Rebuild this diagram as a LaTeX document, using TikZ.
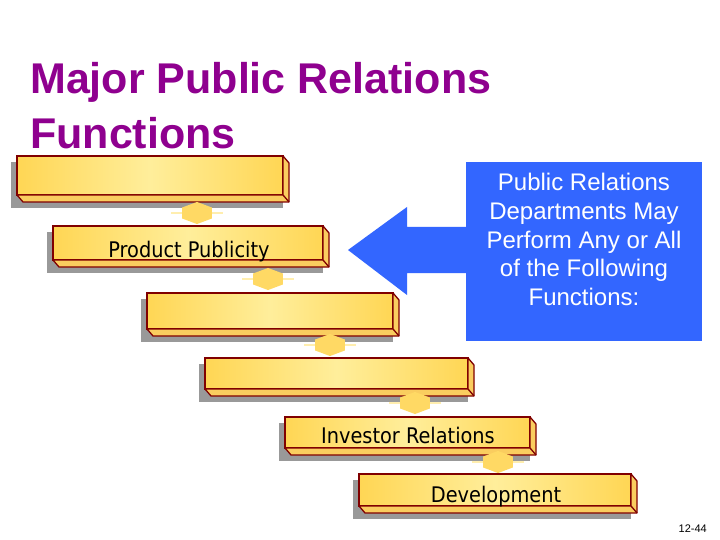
\documentclass[tikz,border=0pt]{standalone}
\usepackage{fontspec}
\setmainfont{Liberation Sans}
\newfontfamily\barfont{DejaVu Sans Condensed}
\usetikzlibrary{shapes.geometric}
\definecolor{titlepurple}{RGB}{143,0,143}
\definecolor{boxblue}{RGB}{51,102,255}
\definecolor{barborder}{RGB}{128,0,0}
\definecolor{baredge}{RGB}{255,214,84}
\definecolor{barmid}{RGB}{255,238,155}
\definecolor{barside}{RGB}{250,205,95}
\definecolor{shadowgray}{RGB}{153,153,153}
\definecolor{hexgold}{RGB}{255,217,100}
\definecolor{glow}{RGB}{255,238,175}
\tikzset{
  barface/.style={rectangle, draw=barborder, line width=1.3pt, inner sep=0pt, outer sep=0pt,
    left color=baredge, right color=baredge, middle color=barmid},
  barrim/.style={draw=barborder, fill=barside, line width=1.3pt, line join=round},
  barshadow/.style={fill=shadowgray},
  bartext/.style={font=\barfont\fontsize{21.5}{24}\selectfont, text=black, inner sep=0pt, anchor=base},
  hexcon/.style={regular polygon, regular polygon sides=6, shape border rotate=30,
    fill=hexgold, draw=none, minimum size=24pt, inner sep=0pt, transform shape, xscale=1.42, yscale=0.92},
  glowline/.style={draw=glow, line width=1.2pt},
  titletext/.style={font=\bfseries\fontsize{43}{48}\selectfont, text=titlepurple, inner sep=0pt, anchor=base west},
}
% #1 name, #2 x1, #3 y1, #4 x2, #5 y2
\newcommand\pbar[5]{%
  \fill[barshadow] ({#2-6},{#3+6}) rectangle (#4,{#5+13});
  \node[barface, minimum width={#4pt-#2pt}, minimum height={#5pt-#3pt}] (#1) at ({(#2+#4)/2},{(#3+#5)/2}) {};
  \draw[barrim] (#1.south west) -- ++(6,7) -- ({#4+6},{#5+7}) -- ({#4+6},{#3+7}) -- (#1.north east) -- (#1.south east) -- cycle;
  \draw[barrim] (#1.south east) -- ++(6,7);
}
% glow behind a hexagon: #1 cx, #2 cy
\newcommand\hexglow[2]{%
  \draw[glowline] ({#1-26},#2) -- ({#1+26},#2);
  \draw[glowline] ({#1-14},{#2-12}) -- ({#1+14},{#2-12});
}
\begin{document}
\begin{tikzpicture}[x=1pt,y=-1pt]
\useasboundingbox (0,0) rectangle (720,540);
\fill[white] (0,0) rectangle (720,540);

% title
\node[titletext] (t1) at (30,94) {Major Public Relations};
\node[titletext] (t2) at (30,149) {Functions};

% glows
\hexglow{197}{213}
\hexglow{268}{279}
\hexglow{330}{345}
\hexglow{415}{403}
\hexglow{498}{462}

% bars (drawn top to bottom)
\pbar{b1}{17}{156}{283}{195}
\node[hexcon] (h1) at (197,213) {};
\pbar{b2}{53}{226}{323}{260}
\node[hexcon] (h2) at (268,279) {};
\pbar{b3}{147}{293}{393}{329}
\node[hexcon] (h3) at (330,345) {};
\pbar{b4}{205}{358}{468}{389}
\node[hexcon] (h4) at (415,403) {};
\pbar{b5}{285}{417}{530}{448}
\node[hexcon] (h5) at (498,462) {};
\pbar{b6}{359}{474}{631}{506}

\node[bartext] (l2) at (189,258) {Product Publicity};
\node[bartext] (l5) at (408,443) {Investor Relations};
\node[bartext] (l6) at (496,502) {Development};

% blue box and arrow
\node[rectangle, fill=boxblue, minimum width=236pt, minimum height=179pt, inner sep=0pt] (prbox) at (584,251.5) {};
\coordinate (tip) at (348,250);
\fill[boxblue] (tip) -- (407,207) -- (407,227) -- (prbox.west |- 0,227) -- (prbox.west |- 0,273) -- (407,273) -- (407,295) -- cycle;
\node[font=\fontsize{24}{28.75}\selectfont, text=white, align=center, inner sep=0pt] (boxtext) at (584,239.5)
  {Public Relations\\Departments May\\Perform Any or All\\of the Following\\Functions:};

% page number
\node[font=\fontsize{11}{13}\selectfont, anchor=base east, inner sep=0pt] (pnum) at (707,532) {12-44};
\end{tikzpicture}
\end{document}
